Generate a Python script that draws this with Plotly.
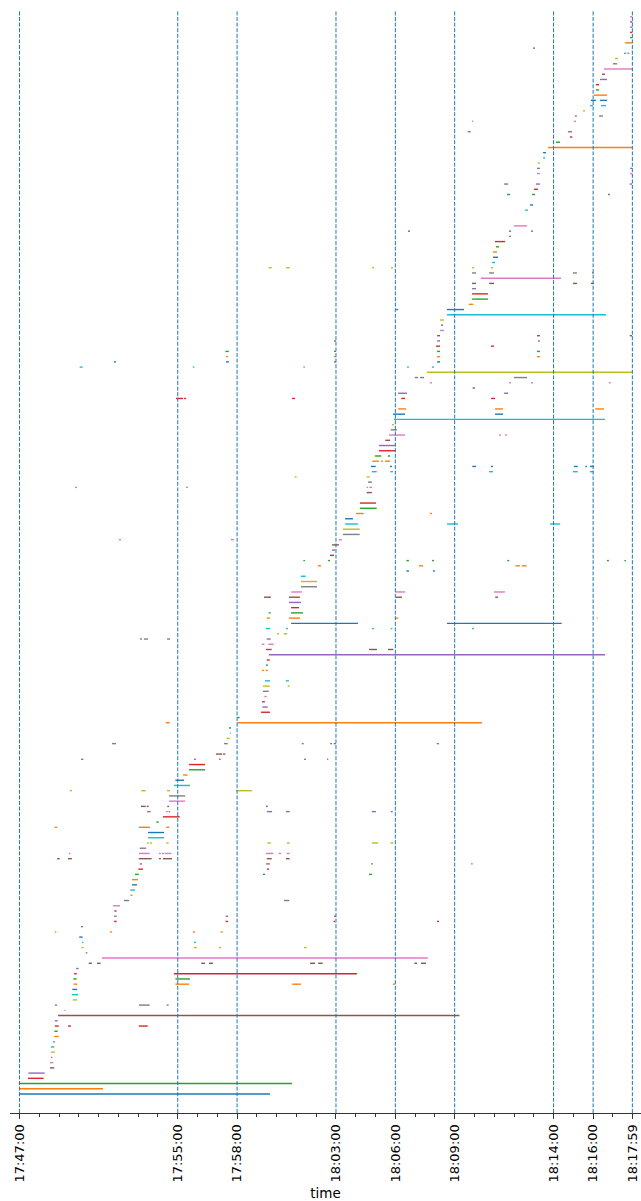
from datetime import datetime, timedelta
import plotly.graph_objects as go

START = datetime(2024, 1, 1, 17, 47, 0)

# Major tick times shown on the time axis
TICK_TIMES = ["17:47:00", "17:55:00", "17:58:00", "18:03:00", "18:06:00",
              "18:09:00", "18:14:00", "18:16:00", "18:17:59"]

# tab10 palette, cycled by row index
PALETTE = ["#1f77b4", "#ff7f0e", "#2ca02c", "#d62728", "#9467bd",
           "#8c564b", "#e377c2", "#7f7f7f", "#bcbd22", "#17becf"]

# Active intervals per row, as (start, end) in minutes after 17:47:00.
ROWS_000_049 = [
    [(0, 12.66)], [(0, 4.22)], [(0, 13.78)], [(0.43, 1.22)], [(0.45, 1.27)],
    [(1.54, 1.76)], [(1.54, 1.71)], [(1.59, 1.66)], [(1.59, 1.79)], [(1.59, 1.76)],
    [(1.71, 1.78)], [(1.76, 1.98)], [(1.76, 1.93)],
    [(1.79, 1.98), (2.45, 2.60), (6.03, 6.48)],
    [(1.79, 1.93)],
    [(1.95, 22.24)],
    [(2.27, 2.33)],
    [(1.79, 1.90), (6.04, 6.58), (7.44, 7.54)],
    [(2.69, 2.92)], [(2.64, 2.96)], [(2.67, 2.92)],
    [(2.74, 2.92), (7.88, 8.57), (13.79, 14.23), (18.88, 18.98)],
    [(2.72, 2.89), (7.88, 8.62)],
    [(2.76, 2.89), (7.81, 17.06)],
    [(2.86, 2.99)],
    [(3.50, 3.66), (3.92, 4.10), (9.19, 9.38), (9.58, 9.78), (14.69, 14.94),
     (15.10, 15.33), (19.96, 20.10), (20.30, 20.55)],
    [(4.17, 20.64)],
    [(3.35, 3.43)],
    [(3.13, 3.24), (8.82, 8.96), (10.09, 10.19), (14.38, 14.52)],
    [(3.16, 3.23), (8.82, 8.92)],
    [(3.02, 3.19)],
    [(1.79, 1.86), (4.58, 4.68), (8.77, 8.87), (10.17, 10.27)],
    [(3.11, 3.21)],
    [(4.78, 4.91), (10.42, 10.54), (15.88, 15.96), (21.11, 21.21)],
    [(4.78, 4.91), (10.42, 10.54), (15.90, 16.00)],
    [(4.79, 4.91)],
    [(4.73, 5.08)],
    [(5.28, 5.54), (13.37, 13.64)],
    [(5.60, 5.72)], [(5.60, 5.84)], [(5.69, 5.94)], [(5.69, 5.99)],
    [(5.84, 6.03), (12.31, 12.41), (17.67, 17.82)],
    [(6.01, 6.24), (12.51, 12.61)],
    [(6.08, 6.19), (12.46, 12.66), (17.77, 17.87), (22.83, 22.91)],
    [(1.90, 2.03), (2.45, 2.65), (6.03, 6.68), (7.05, 7.15), (7.25, 7.71),
     (12.50, 12.75), (13.47, 13.66)],
    [(2.49, 2.57), (6.04, 6.58), (7.05, 7.15), (7.20, 7.31), (7.34, 7.68),
     (12.46, 12.83), (13.10, 13.22), (13.51, 13.66)],
    [(6.08, 6.40)],
    [(6.45, 6.55), (6.60, 6.70), (7.42, 7.54), (12.53, 12.71), (13.52, 13.66),
     (17.82, 18.13), (18.75, 18.90)],
    [(6.50, 7.31)],
]

ROWS_050_099 = [
    [(6.50, 7.31)],
    [(1.78, 1.90), (6.04, 6.60), (7.42, 7.56)],
    [(6.92, 7.04)],
    [(7.25, 8.10)],
    [(6.45, 6.63), (7.42, 7.49), (7.54, 7.61), (12.51, 12.77), (13.47, 13.66),
     (17.81, 18.02), (18.77, 18.87)],
    [(6.14, 6.38), (6.43, 6.53), (7.47, 7.56), (12.46, 12.55)],
    [(7.56, 8.37)], [(7.56, 8.37)],
    [(2.55, 2.65), (6.16, 6.38), (7.46, 7.61), (10.96, 11.75)],
    [(7.81, 8.62)],
    [(7.88, 8.32)], [(8.27, 8.50)], [(8.57, 9.38)], [(8.57, 9.38)],
    [(3.11, 3.23), (8.82, 8.92), (10.09, 10.17), (14.38, 14.48), (15.55, 15.61)],
    [(9.93, 10.24), (10.29, 10.40)],
    [],
    [(4.68, 4.88), (10.34, 10.53), (14.27, 14.37), (15.70, 15.80), (15.88, 16.00),
     (21.09, 21.21)],
    [(10.47, 10.63)], [(10.63, 10.68)],
    [(10.59, 10.69)],
    [(7.39, 7.59), (11.01, 23.38)],
    [(11.01, 11.13)], [(12.21, 12.66)], [(12.28, 12.55)], [(12.26, 12.41)],
    [(12.38, 12.50)], [(12.31, 12.60)],
    [(12.31, 12.65), (13.56, 13.66)],
    [(12.41, 12.66), (13.47, 13.62)],
    [],
    [(12.26, 12.36), (12.44, 12.55)],
    [(12.46, 12.56)], [(12.50, 12.65)],
    [(12.61, 29.60)],
    [(12.46, 12.75), (17.67, 18.07), (18.63, 18.90)],
    [(12.26, 12.38), (12.58, 12.85)],
    [(6.09, 6.19), (6.29, 6.50), (7.46, 7.61), (12.50, 12.70)],
    [(13.02, 13.12), (13.36, 13.54)],
    [(12.46, 12.66), (13.47, 13.57), (17.82, 17.92), (18.77, 18.85), (22.88, 22.98)],
    [(13.73, 17.11), (21.61, 27.41)],
    [(12.51, 12.66), (13.62, 14.18), (19.00, 19.15), (29.18, 29.23)],
    [(12.60, 12.70), (13.73, 14.33)],
    [(13.73, 14.13)], [(13.62, 14.23)],
    [(12.36, 12.71), (13.62, 14.18), (19.03, 19.34), (24.05, 24.19)],
    [(13.74, 14.28), (19.00, 19.50), (23.99, 24.54)],
    [(14.23, 15.04)], [(14.23, 15.04)], [(14.23, 14.47)],
]

ROWS_100_149 = [
    [(19.56, 19.69), (20.90, 21.00)],
    [(15.09, 15.24), (20.20, 20.40), (25.07, 25.30), (25.40, 25.64)],
    [(14.35, 14.43), (15.60, 15.70), (19.56, 19.69), (20.85, 20.95), (24.66, 24.76),
     (29.70, 29.80), (30.58, 30.66)],
    [(15.70, 15.90)], [(15.80, 15.95)], [(15.80, 16.15)],
    [(5.03, 5.13), (10.69, 10.84), (16.15, 16.30)],
    [(16.35, 17.20)], [(16.35, 17.20)],
    [(16.46, 17.11), (21.61, 22.17), (26.82, 27.33)],
    [(16.46, 16.86)],
    [(17.01, 17.40), (20.75, 20.85)],
    [(17.21, 18.06)], [(17.21, 18.02)],
    [],
    [(17.55, 17.81)],
    [(2.81, 2.91), (8.42, 8.52), (17.55, 17.62), (17.69, 17.82)],
    [(17.62, 17.82)],
    [(13.91, 14.01), (17.55, 17.70)],
    [(17.82, 18.06), (18.75, 18.88), (23.74, 23.94), (27.98, 28.22), (28.84, 29.03)],
    [(17.77, 18.01), (18.73, 18.83), (22.89, 23.08), (23.84, 23.94), (28.03, 28.22),
     (28.61, 28.69), (28.84, 29.03)],
    [(17.84, 18.17), (18.28, 18.38), (18.48, 18.73)],
    [(17.97, 18.29), (18.63, 18.73)],
    [(18.17, 19.00)], [(18.17, 19.00)], [(18.49, 18.73)],
    [(18.68, 19.49), (24.24, 24.34), (24.54, 24.65)],
    [(18.77, 19.08)], [(18.83, 18.93)],
    [(18.93, 29.60)],
    [(18.88, 19.49), (24.04, 24.44)],
    [(19.14, 19.54), (24.04, 24.44), (29.11, 29.55)],
    [],
    [(7.91, 8.27), (8.32, 8.42), (13.78, 13.93), (19.30, 19.49), (23.84, 24.04)],
    [(19.14, 19.59), (24.50, 24.70)],
    [(22.91, 23.03)],
    [(20.75, 20.85), (24.75, 24.85), (25.86, 25.96), (29.79, 29.89)],
    [(19.98, 20.15), (20.25, 20.45), (25.00, 25.66)],
    [(20.60, 30.97)],
    [(3.04, 3.19), (8.76, 8.84), (14.35, 14.43), (19.59, 19.69), (20.85, 20.95)],
    [(4.78, 4.88), (10.44, 10.58), (15.90, 16.00), (21.11, 21.26)],
    [(10.44, 10.54), (15.90, 16.00), (21.11, 21.26), (26.16, 26.31)],
    [(10.41, 10.58), (15.90, 16.00), (21.11, 21.26), (26.16, 26.31)],
    [(21.06, 21.26), (23.84, 23.99)],
    [(15.90, 16.00), (21.11, 21.26), (26.21, 26.31)],
    [(21.11, 21.26), (26.16, 26.31), (30.85, 30.97)],
    [(21.26, 21.46)], [(21.31, 21.41)], [(21.26, 21.46)],
    [(21.61, 29.65)],
]

ROWS_150_206 = [
    [(19.04, 19.14), (21.61, 22.47)],
    [(22.72, 22.93)],
    [(22.88, 23.68)], [(22.88, 23.68)],
    [(22.88, 23.08)],
    [(22.88, 23.08), (23.74, 23.99), (27.98, 28.18), (28.89, 29.04)],
    [(23.32, 27.38)],
    [(22.88, 23.08), (23.74, 23.99), (27.98, 28.18), (28.94, 29.04)],
    [(12.60, 12.75), (13.48, 13.66), (17.82, 17.92), (18.78, 18.88), (22.88, 22.98),
     (23.84, 23.94)],
    [(23.89, 24.04)], [(23.94, 24.19)], [(23.94, 24.14)], [(24.09, 24.24)],
    [(24.04, 24.55)], [(24.75, 24.85)],
    [(19.64, 19.74), (24.75, 24.85), (25.86, 25.96)],
    [(25.00, 25.66)],
    [], [],
    [(25.56, 25.71)], [(25.81, 25.96)],
    [],
    [(24.65, 24.80), (25.91, 26.06), (29.75, 29.85)],
    [(26.01, 26.21)],
    [(24.50, 24.70), (26.11, 26.31), (30.85, 30.97)],
    [],
    [(26.16, 26.31), (30.87, 30.97)], [(26.16, 26.31), (30.87, 30.97)],
    [(26.21, 26.31)], [(26.47, 26.57)], [(26.47, 26.62)],
    [(26.72, 30.97)],
    [(27.12, 27.33)], [(27.83, 27.95)],
    [(22.66, 22.81), (27.73, 27.93)],
    [],
    [(22.88, 22.94), (28.03, 28.13)],
    [(28.08, 28.18), (29.30, 29.50)],
    [(28.49, 28.59)],
    [(28.84, 28.99), (29.40, 29.65)],
    [(28.89, 29.14), (29.35, 29.70)],
    [(29.04, 29.70)],
    [(29.14, 29.30)], [(29.14, 29.30)],
    [(29.35, 29.70)], [(29.45, 29.60)],
    [(29.55, 30.98)],
    [(30.00, 30.21)], [(30.11, 30.26)],
    [(30.56, 30.66), (30.73, 30.83)],
    [(25.96, 26.06)],
    [(30.61, 30.97)],
    [(30.87, 30.98)], [(30.87, 30.98)], [(30.87, 30.98)], [(30.87, 30.98)],
    [(30.87, 30.98)],
]

ALL_ROWS = ROWS_000_049 + ROWS_050_099 + ROWS_100_149 + ROWS_150_206


def at(minutes):
    return (START + timedelta(minutes=minutes)).strftime("%Y-%m-%d %H:%M:%S.%f")


def clock(hms):
    h, m, s = (int(p) for p in hms.split(":"))
    return START.replace(hour=h, minute=m, second=s).strftime("%Y-%m-%d %H:%M:%S")


fig = go.Figure()

# One trace per colour, rows separated by gaps
for c, color in enumerate(PALETTE):
    xs, ys = [], []
    for r, spans in enumerate(ALL_ROWS):
        if r % len(PALETTE) != c:
            continue
        for s, e in spans:
            xs += [at(s), at(e), None]
            ys += [r, r, None]
    fig.add_trace(go.Scatter(x=xs, y=ys, mode="lines",
                             line=dict(color=color, width=1.4),
                             hoverinfo="skip", showlegend=False))

tick_vals = [clock(t) for t in TICK_TIMES]

for tv in tick_vals:
    fig.add_shape(type="line", xref="x", yref="paper", x0=tv, x1=tv, y0=0, y1=1,
                  line=dict(color="#1f77b4", width=1, dash="4px,1.6px"))

minute_ticks = [at(m) for m in range(0, 32)]

fig.update_layout(
    width=641, height=1201,
    margin=dict(l=10, r=0, t=11, b=88),
    plot_bgcolor="white", paper_bgcolor="white",
    font=dict(family="DejaVu Sans", color="black", size=13),
    xaxis=dict(
        type="date",
        range=[at(-0.48), at(31.42)],
        tickmode="array", tickvals=tick_vals, ticktext=TICK_TIMES,
        tickangle=-90, ticks="outside", ticklen=5, tickwidth=1, tickcolor="#333",
        tickfont=dict(family="DejaVu Sans", size=13, color="black"),
        minor=dict(tickmode="array", tickvals=minute_ticks, ticks="outside",
                   ticklen=3, tickwidth=1, tickcolor="#333", showgrid=False),
        showgrid=False, zeroline=False,
        showline=True, linecolor="#333", linewidth=1,
        title=dict(text="time", font=dict(family="DejaVu Sans", size=13.5, color="black"),
                   standoff=6),
        automargin=False,
    ),
    yaxis=dict(visible=False, range=[-3.63, 207.09], showgrid=False, zeroline=False),
)

fig.write_html("out.html")
